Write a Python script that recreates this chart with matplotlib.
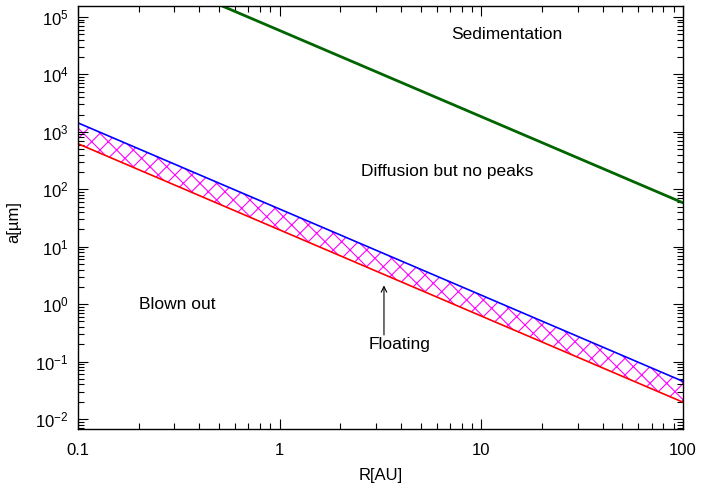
import numpy as np
import matplotlib
matplotlib.use("Agg")
import matplotlib.pyplot as plt

plt.rcParams['font.family'] = ['Liberation Sans', 'DejaVu Sans']
plt.rcParams['axes.unicode_minus'] = False
plt.rcParams['hatch.color'] = '#ff00ff'
plt.rcParams['hatch.linewidth'] = 0.8

# Orbital distance [AU] and grain-size thresholds [micron]
R = [0.1, 1.0, 10.0, 100.0]
a_blowout = [1430.0, 45.2, 1.43, 0.0452]
a_floating = [620.0, 19.6, 0.62, 0.0196]
a_sediment = [1.83e6, 5.8e4, 1834.0, 58.0]

fig = plt.figure(figsize=(7.02, 4.84), dpi=100)
ax = fig.add_axes([78/702, 1 - 429/484, (683-78)/702, (429-6)/484])

ax.fill_between(R, a_floating, a_blowout, facecolor='none', hatch='xx',
                edgecolor='#ff00ff', linewidth=0)
ax.plot(R, a_blowout, color='#0000ff', lw=1.2)
ax.plot(R, a_floating, color='#ff0000', lw=1.2)
ax.plot(R, a_sediment, color='#006400', lw=2.0)

ax.set_xscale('log')
ax.set_yscale('log')
ax.set_xlim(0.1, 100)
ax.set_ylim(0.0067, 1.55e5)

ax.set_xticks([0.1, 1, 10, 100])
ax.set_xticklabels(['0.1', '1', '10', '100'])
ax.set_yticks([1e-2, 1e-1, 1e0, 1e1, 1e2, 1e3, 1e4, 1e5])

ax.tick_params(which='both', direction='in', top=True, right=True,
               labelsize=12, width=0.8)
ax.tick_params(axis='x', which='major', pad=10)
ax.tick_params(axis='y', which='major', pad=7)
ax.tick_params(which='major', length=7)
ax.tick_params(which='minor', length=4)
for s in ax.spines.values():
    s.set_linewidth(1.0)

ax.set_xlabel('R[AU]', fontsize=12, labelpad=7)
ax.set_ylabel('a[µm]', fontsize=12)
ax.yaxis.set_label_coords(-0.093, 0.49)

ax.text(13.4, 5.0e4, 'Sedimentation', fontsize=12.5, ha='center', va='center')
ax.text(6.8, 200, 'Diffusion but no peaks', fontsize=12.5, ha='center', va='center')
ax.text(0.31, 1.0, 'Blown out', fontsize=12.5, ha='center', va='center')
ax.text(3.95, 0.198, 'Floating', fontsize=12.5, ha='center', va='center')
ax.annotate('', xy=(3.29, 2.37), xytext=(3.29, 0.26),
            arrowprops=dict(arrowstyle='->', color='black', lw=0.8))

fig.savefig('out.png', dpi=100)
